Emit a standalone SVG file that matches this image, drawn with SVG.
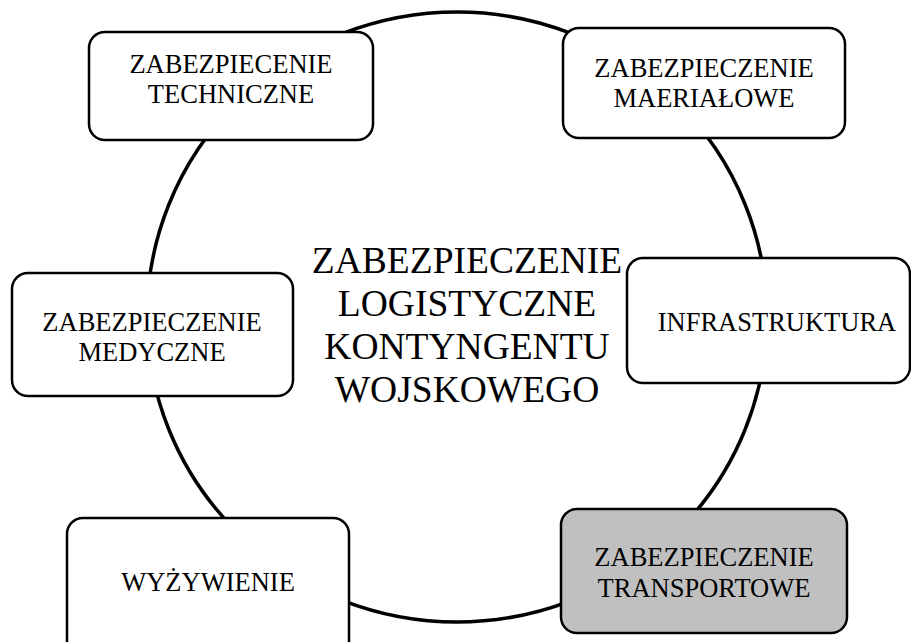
<svg xmlns="http://www.w3.org/2000/svg" width="911" height="642" viewBox="0 0 911 642">
<style>
.box{fill:#ffffff;stroke:#000;stroke-width:2.5}
.gray{fill:#c0c0c0}
.t{font-family:"Liberation Serif","Times New Roman",serif;font-size:26.5px;fill:#000;text-anchor:middle}
.c{font-family:"Liberation Serif","Times New Roman",serif;font-size:37.5px;fill:#000;text-anchor:middle}
</style>
<rect width="911" height="642" fill="#fff"/>
<g id="connectors">
<ellipse cx="457" cy="317" rx="310" ry="305" fill="none" stroke="#000" stroke-width="3.5"/>
</g>
<g id="center">
<text class="c" x="467" y="273">ZABEZPIECZENIE</text>
<text class="c" x="467" y="316">LOGISTYCZNE</text>
<text class="c" x="467" y="359">KONTYNGENTU</text>
<text class="c" x="467" y="402">WOJSKOWEGO</text>
</g>
<g id="techniczne">
<rect class="box" x="89" y="32" width="284" height="108" rx="16"/>
<text class="t" x="231" y="73">ZABEZPIECENIE</text>
<text class="t" x="231" y="103">TECHNICZNE</text>
</g>
<g id="materialowe">
<rect class="box" x="563" y="28" width="282" height="110" rx="16"/>
<text class="t" x="704" y="77">ZABEZPIECZENIE</text>
<text class="t" x="704" y="107">MAERIAŁOWE</text>
</g>
<g id="infrastruktura">
<rect class="box" x="627" y="258" width="283" height="125" rx="16"/>
<text class="t" x="777" y="331">INFRASTRUKTURA</text>
</g>
<g id="medyczne">
<rect class="box" x="12" y="273" width="281" height="123" rx="16"/>
<text class="t" x="152" y="331">ZABEZPIECZENIE</text>
<text class="t" x="152" y="361">MEDYCZNE</text>
</g>
<g id="wyzywienie">
<rect class="box" x="67" y="518" width="282" height="140" rx="16"/>
<text class="t" x="208" y="591">WYŻYWIENIE</text>
</g>
<g id="transportowe">
<rect class="box gray" x="561" y="509" width="286" height="124" rx="16"/>
<text class="t" x="704" y="566">ZABEZPIECZENIE</text>
<text class="t" x="704" y="597">TRANSPORTOWE</text>
</g>
</svg>
